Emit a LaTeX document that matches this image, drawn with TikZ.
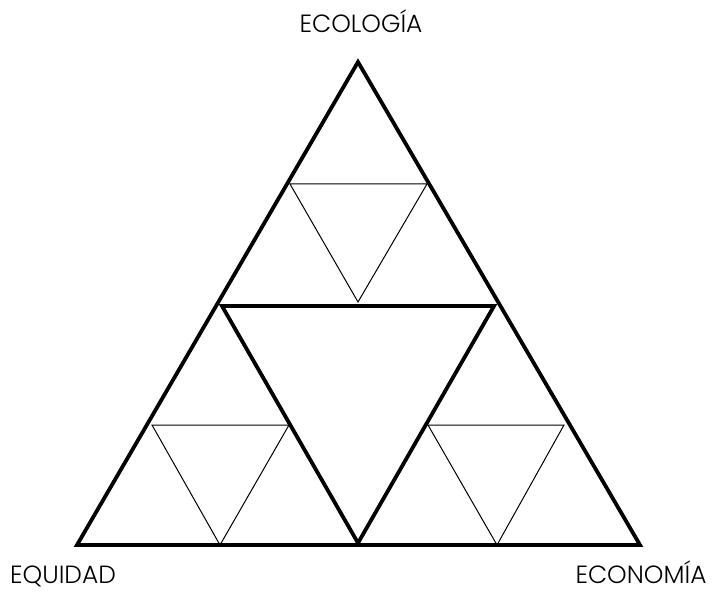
\documentclass[tikz,border=0pt]{standalone}
\usepackage{fontspec}
\setmainfont{Poppins}[UprightFont=* Light]
\begin{document}
\begin{tikzpicture}[x=1bp,y=-1bp,
  thick line/.style={line width=3.8bp,line join=miter},
  thin line/.style={line width=1bp,line join=miter},
  lab/.style={font=\fontsize{25}{29}\selectfont,inner sep=0pt,anchor=base,text depth=0pt}]
\useasboundingbox (0,0) rectangle (720,593);
% outer triangle
\coordinate (A) at (358,62);
\coordinate (B) at (77,545);
\coordinate (C) at (640,545);
\draw[thick line] (A) -- (B) -- (C) -- cycle;
% inner inverted triangle
\coordinate (P) at (222,306);
\coordinate (Q) at (494,306);
\coordinate (R) at (358,543);
\draw[thick line] (P) -- (Q) -- (R) -- cycle;
% small triangles
\coordinate (t1) at (290,184); \coordinate (t2) at (427,184); \coordinate (t3) at (358,302);
\draw[thin line] (t1) -- (t2) -- (t3) -- cycle;
\coordinate (l1) at (152,425); \coordinate (l2) at (289,425); \coordinate (l3) at (220,545);
\draw[thin line] (l1) -- (l2) -- (l3) -- cycle;
\coordinate (r1) at (428,425); \coordinate (r2) at (564,425); \coordinate (r3) at (497,545);
\draw[thin line] (r1) -- (r2) -- (r3) -- cycle;
% labels
\node[lab] (eco) at (361,33) {ECOLOGÍA};
\node[lab] (equ) at (63,583) {EQUIDAD};
\node[lab] (econ) at (641,583) {ECONOMÍA};
\end{tikzpicture}
\end{document}
